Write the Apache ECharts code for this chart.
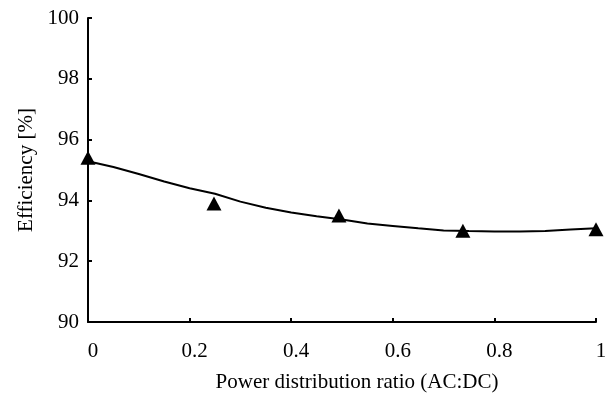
<!DOCTYPE html>
<html>
<head>
<meta charset="utf-8">
<script src="https://cdn.jsdelivr.net/npm/echarts@6/dist/echarts.min.js"></script>
<style>
  html, body { margin: 0; padding: 0; background: #fff; }
  #chart { width: 611px; height: 398px; }
</style>
</head>
<body>
<div id="chart"></div>
<script>
// measured points (triangles)
const ratioMeasured = [0, 0.248, 0.494, 0.738, 1];
const effMeasured = [95.4, 93.9, 93.5, 93.0, 93.05];

// fitted curve
const ratioFit = [0, 0.05, 0.1, 0.15, 0.2, 0.25, 0.3, 0.35, 0.4, 0.45, 0.5,
  0.55, 0.6, 0.65, 0.7, 0.75, 0.8, 0.85, 0.9, 0.95, 1];
const effFit = [95.29, 95.1, 94.87, 94.62, 94.4, 94.22, 93.96, 93.76, 93.6, 93.48, 93.37,
  93.24, 93.16, 93.08, 93.01, 92.99, 92.98, 92.98, 92.99, 93.04, 93.08];

const FONT = 'Liberation Serif';
const FS = 21;

const chart = echarts.init(document.getElementById('chart'));

const axisCommon = {
  axisLine: { lineStyle: { color: '#000', width: 2 } },
  axisTick: { inside: true, length: 4, lineStyle: { color: '#000', width: 2 } },
  splitLine: { show: false },
  nameTextStyle: { color: '#000', fontFamily: FONT, fontSize: FS },
};

chart.setOption({
  animation: false,
  grid: { left: 88, top: 18, right: 15, bottom: 72 },
  xAxis: {
    ...axisCommon,
    type: 'value',
    min: 0,
    max: 1,
    interval: 0.2,
    name: 'Power distribution ratio (AC:DC)',
    nameLocation: 'middle',
    nameGap: 50,
    nameTextStyle: { ...axisCommon.nameTextStyle, padding: [0, 0, 0, 30] },
    axisLabel: {
      color: '#000', fontFamily: FONT, fontSize: FS, margin: 19,
      padding: [0, 0, 0, 10],
      formatter: v => String(+v.toFixed(1)),
    },
  },
  yAxis: {
    ...axisCommon,
    type: 'value',
    min: 90,
    max: 100,
    interval: 2,
    name: 'Efficiency [%]',
    nameLocation: 'middle',
    nameGap: 50,
    axisLabel: { color: '#000', fontFamily: FONT, fontSize: FS, margin: 9 },
  },
  series: [
    {
      type: 'line',
      data: ratioFit.map((x, i) => [x, effFit[i]]),
      showSymbol: false,
      lineStyle: { color: '#000', width: 2 },
      z: 2,
    },
    {
      type: 'scatter',
      data: ratioMeasured.map((x, i) => [x, effMeasured[i]]),
      symbol: 'triangle',
      symbolSize: [15, 14],
      itemStyle: { color: '#000', opacity: 1 },
      clip: false,
      z: 3,
    },
  ],
});
</script>
</body>
</html>
